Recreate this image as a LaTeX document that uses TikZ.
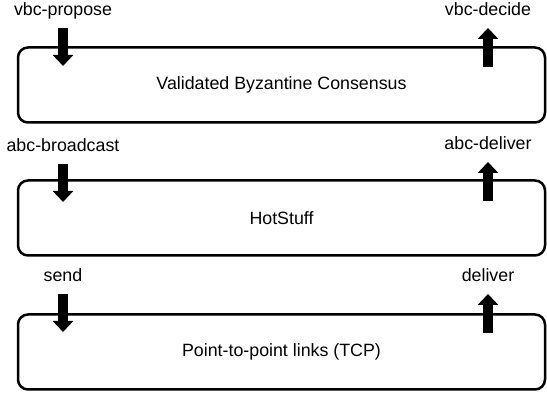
\documentclass[tikz,border=0pt]{standalone}
\usepackage{fontspec}
\setmainfont{Liberation Sans}
\usetikzlibrary{arrows.meta}
\begin{document}
\begin{tikzpicture}[x=1pt,y=-1pt]
\tikzset{couche/.style={draw, line width=2.5pt, rounded corners=10pt, minimum width=527pt, minimum height=75pt, font=\fontsize{17.8}{21}\selectfont}}
\tikzset{etiquette/.style={anchor=south, inner xsep=0pt, inner ysep=8pt, text height=13pt, text depth=4pt, font=\fontsize{17.8}{21}\selectfont}}
\tikzset{fleche/.style={line width=10pt, -{Triangle[width=20pt,length=11pt]}}}
\useasboundingbox (0,0) rectangle (547,395);
\node[couche] (VBC) at (281.5,85) {Validated Byzantine Consensus};
\node[couche] (HS) at (281.5,218) {HotStuff};
\node[couche] (TCP) at (281.5,352) {Point-to-point links (TCP)};
\node[etiquette] (propose) at (63,28) {vbc-propose};
\node[etiquette] (decide) at (488,28) {vbc-decide};
\node[etiquette] (broadcast) at (63,164) {abc-broadcast};
\node[etiquette] (abcdeliver) at (488,162) {abc-deliver};
\node[etiquette] (send) at (63,294) {send};
\node[etiquette] (deliver) at (488,294) {deliver};
\coordinate (propose-in) at (63,66);
\coordinate (decide-out) at (488,67);
\coordinate (broadcast-in) at (63,202);
\coordinate (abcdeliver-out) at (488,201);
\coordinate (send-in) at (63,332);
\coordinate (deliver-out) at (488,333);
\draw[fleche] (propose) -- (propose-in);
\draw[fleche] (decide-out) -- (decide);
\draw[fleche] (broadcast) -- (broadcast-in);
\draw[fleche] (abcdeliver-out) -- (abcdeliver);
\draw[fleche] (send) -- (send-in);
\draw[fleche] (deliver-out) -- (deliver);
\end{tikzpicture}
\end{document}
